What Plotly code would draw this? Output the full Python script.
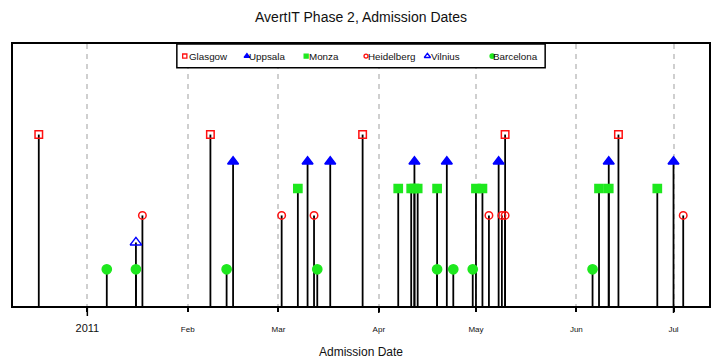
import pandas as pd
import plotly.graph_objects as go

# Admission dates per recruiting centre
centers = ["Glasgow", "Uppsala", "Monza", "Heidelberg", "Vilnius", "Barcelona"]
levels = [6, 5, 4, 3, 2, 1]

glasgow = ["2010-12-17", "2011-02-08", "2011-03-27", "2011-05-10", "2011-06-14"]
uppsala = ["2011-02-15", "2011-03-10", "2011-03-17", "2011-04-12", "2011-04-22",
           "2011-05-08", "2011-06-11", "2011-07-01"]
monza = ["2011-03-07", "2011-04-07", "2011-04-11", "2011-04-12", "2011-04-13",
         "2011-04-19", "2011-05-01", "2011-05-03", "2011-06-08", "2011-06-11",
         "2011-06-26"]
heidelberg = ["2011-01-18", "2011-03-02", "2011-03-12", "2011-05-05", "2011-05-09",
              "2011-05-10", "2011-07-04"]
vilnius = ["2011-01-16"]
barcelona = ["2011-01-07", "2011-01-16", "2011-02-13", "2011-03-13", "2011-04-19",
             "2011-04-24", "2011-04-30", "2011-06-06"]
dates_by_center = [glasgow, uppsala, monza, heidelberg, vilnius, barcelona]

tick_dates = ["2011-01-01", "2011-02-01", "2011-03-01", "2011-04-01",
              "2011-05-01", "2011-06-01", "2011-07-01"]
tick_labels = ["2011", "Feb", "Mar", "Apr", "May", "Jun", "Jul"]
long_tick_dates = ["2011-01-01", "2011-04-01", "2011-07-01"]
long_tick_lengths = [10, 7, 7]

# marker styles: symbol, colour, size in plot, size in key
RED, BLUE, GREEN = "#ff1010", "#0000ff", "#1ee81e"
styles = {
    "Glasgow": ("square-open", RED, 7.5, 4.2),
    "Uppsala": ("triangle-up", BLUE, 9.5, 5.0),
    "Monza": ("square", GREEN, 8.2, 4.0),
    "Heidelberg": ("circle-open", RED, 7.5, 4.0),
    "Vilnius": ("triangle-up-open", BLUE, 10, 5.5),
    "Barcelona": ("circle", GREEN, 9.2, 4.5),
}

FONT = "Liberation Sans, Arial, Helvetica, sans-serif"

# axis ranges (4% padding like base graphics)
all_dates = pd.to_datetime(sum(dates_by_center, []))
span = all_dates.max() - all_dates.min()
x_range = [all_dates.min() - 0.04 * span, all_dates.max() + 0.04 * span]
y_top = 9
y_range = [-0.04 * y_top, y_top * 1.04]
y_base = y_range[0]

fig = go.Figure()

# vertical stems
sx, sy = [], []
for dates, lev in zip(dates_by_center, levels):
    for d in pd.to_datetime(dates):
        sx += [d, d, None]
        sy += [y_base, lev, None]
fig.add_trace(go.Scatter(x=sx, y=sy, mode="lines",
                         line=dict(color="black", width=1.8),
                         hoverinfo="skip", showlegend=False))

# centre markers
for name, dates, lev in zip(centers, dates_by_center, levels):
    sym, col, size, _ = styles[name]
    fig.add_trace(go.Scatter(
        x=pd.to_datetime(dates), y=[lev] * len(dates), mode="markers", name=name,
        marker=dict(symbol=sym, color=col, size=size,
                    line=dict(color=col, width=1.5)),
        showlegend=False, cliponaxis=False))

# key box drawn on an overlay axis spanning the plot area (0..1)
box_x0, box_x1, box_y0, box_y1 = 0.2354, 0.7646, 0.909, 1.0
fig.add_trace(go.Scatter(
    x=[box_x0, box_x1, box_x1, box_x0, box_x0],
    y=[box_y1, box_y1, box_y0, box_y0, box_y1],
    mode="lines", fill="toself", fillcolor="white",
    line=dict(color="black", width=1.5),
    xaxis="x2", yaxis="y2", hoverinfo="skip", showlegend=False))

key_sym_x = [0.2468, 0.3361, 0.4212, 0.5072, 0.5954, 0.6886]
key_txt_x = [0.2500, 0.3368, 0.4225, 0.5073, 0.5980, 0.6870]
key_y = 0.9538
annotations = []
for name, kx, tx in zip(centers, key_sym_x, key_txt_x):
    sym, col, _, ksize = styles[name]
    fig.add_trace(go.Scatter(
        x=[kx], y=[key_y], mode="markers",
        marker=dict(symbol=sym, color=col, size=ksize,
                    line=dict(color=col, width=1.3)),
        xaxis="x2", yaxis="y2", hoverinfo="skip", showlegend=False))
    annotations.append(dict(
        x=tx, y=key_y, xref="paper", yref="paper", text=name,
        showarrow=False, xanchor="left", yanchor="middle",
        font=dict(family=FONT, size=9.8, color="#111")))

ticktext = [t if t == "2011" else f"<span style='font-size:8px'>{t}</span>"
            for t in tick_labels]

shapes = []
for d, ln in zip(long_tick_dates, long_tick_lengths):
    shapes.append(dict(type="line", xref="x", yref="paper", x0=d, x1=d,
                       ysizemode="pixel", yanchor=0, y0=0, y1=-ln,
                       line=dict(color="black", width=1.5)))

fig.update_layout(
    width=718, height=364,
    margin=dict(l=13, r=7, t=44, b=56),
    paper_bgcolor="white", plot_bgcolor="white",
    title=dict(text="AvertIT Phase 2, Admission Dates",
               x=0.5, xref="paper", xanchor="center",
               y=1 - 17.5 / 364, yref="container", yanchor="middle",
               font=dict(family=FONT, size=14, color="#111")),
    xaxis=dict(type="date", range=x_range,
               tickmode="array", tickvals=tick_dates, ticktext=ticktext,
               ticks="outside", ticklen=4, tickwidth=1.5, tickcolor="black",
               tickfont=dict(family=FONT, size=11, color="#111"),
               ticklabelstandoff=7,
               showgrid=True, gridcolor="#cfcfcf", gridwidth=1.5, griddash="5px,5px",
               showline=True, linecolor="black", linewidth=1.5, mirror=True,
               zeroline=False,
               title=dict(text="Admission Date", standoff=15,
                          font=dict(family=FONT, size=12, color="#111"))),
    yaxis=dict(range=y_range, showticklabels=False, ticks="", showgrid=False,
               zeroline=False, showline=True, linecolor="black",
               linewidth=1.5, mirror=True),
    xaxis2=dict(overlaying="x", range=[0, 1], visible=False, anchor="y2"),
    yaxis2=dict(overlaying="y", range=[0, 1], visible=False, anchor="x2"),
    annotations=annotations,
    shapes=shapes,
    showlegend=False,
)

fig.write_html("out.html")
